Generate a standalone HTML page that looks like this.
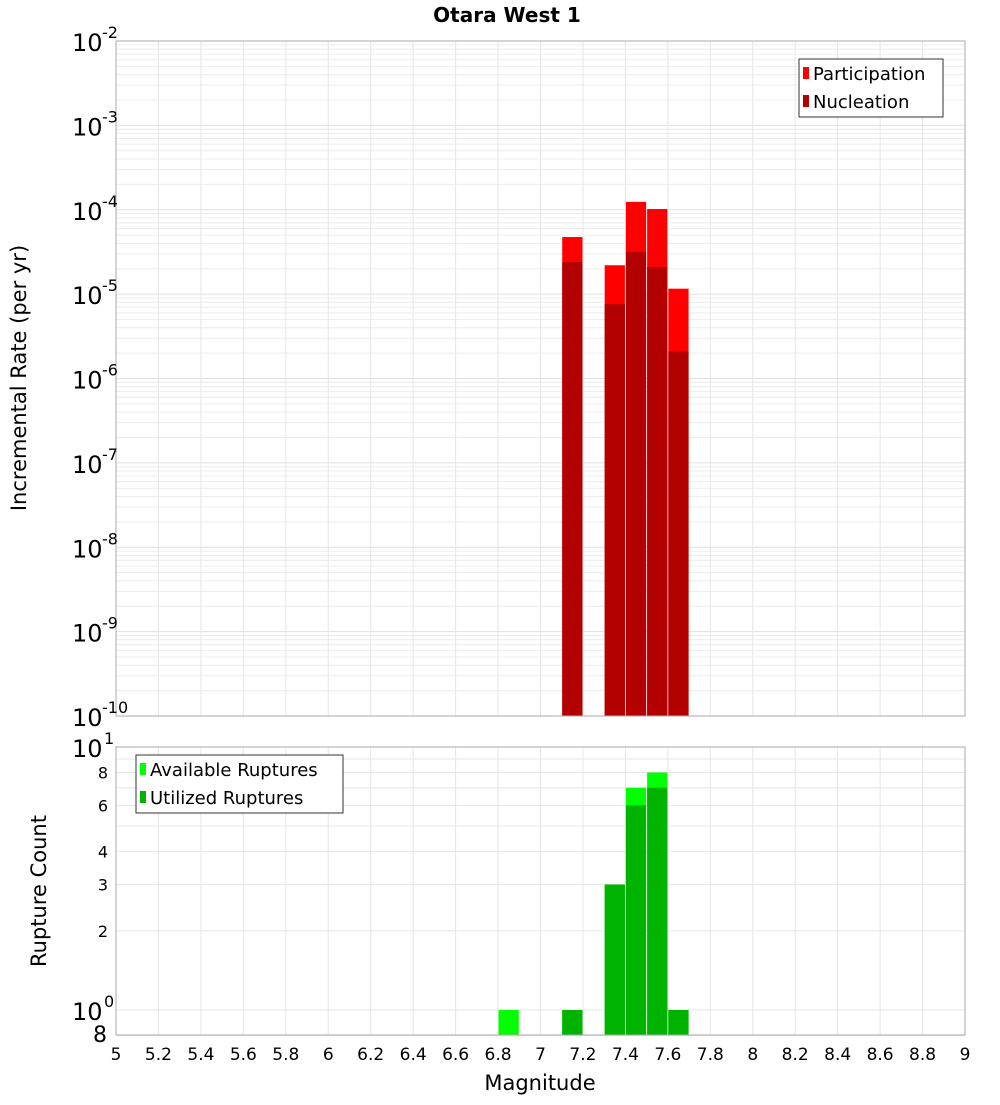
<!DOCTYPE html>
<html><head><meta charset="utf-8"><style>
body{margin:0;background:#fff;}
svg text{font-family:"DejaVu Sans","Liberation Sans",sans-serif;}
</style></head><body>
<svg id="c" width="1000" height="1100" xmlns="http://www.w3.org/2000/svg">
<text x="507" y="22" text-anchor="middle" font-size="20" font-weight="bold">Otara West 1</text>
<text transform="translate(26,378) rotate(-90)" text-anchor="middle" font-size="21">Incremental Rate (per yr)</text>
<text transform="translate(46,891) rotate(-90)" text-anchor="middle" font-size="21">Rupture Count</text>
<text x="540" y="1090" text-anchor="middle" font-size="21">Magnitude</text>
<g id="g"></g>
</svg>
<script>
const bins=[6.85,7.15,7.35,7.45,7.55,7.65];
const participation=[0,4.75e-5,2.2e-5,1.24e-4,1.02e-4,1.16e-5];
const nucleation=[0,2.4e-5,7.6e-6,3.16e-5,2.1e-5,2.1e-6];
const available=[1,1,3,7,8,1];
const utilized=[0,1,3,6,7,1];
const xTicks=[5,5.2,5.4,5.6,5.8,6,6.2,6.4,6.6,6.8,7,7.2,7.4,7.6,7.8,8,8.2,8.4,8.6,8.8,9];
const topExps=[-2,-3,-4,-5,-6,-7,-8,-9,-10];
const botTicks=[8,6,4,3,2];

const NS='http://www.w3.org/2000/svg';
const g=document.getElementById('g');
function el(t,a,p){const e=document.createElementNS(NS,t);for(const k in a)e.setAttribute(k,a[k]);(p||g).appendChild(e);return e;}
const X0=116,X1=965;
const xs=m=>X0+(m-5)/4*(X1-X0);
const T0=41,T1=716;
const ty=v=>T0+(-2-Math.log10(v))*(T1-T0)/8;
const B0=747,B1=1035;
const by=v=>1010-Math.log10(v)*263;

for(let e=-10;e<-2;e++)for(let k=1;k<10;k++){const v=k*Math.pow(10,e);const y=ty(v);
 const l=el('line',{x1:X0,x2:X1,y1:y,y2:y,stroke:k==1?'#e0e0e0':'#ececec','stroke-width':1});
 }
xTicks.forEach(t=>{const x=xs(t);
 const l=el('line',{x1:x,x2:x,y1:T0,y2:T1,stroke:'#e6e6e6'});
 const l2=el('line',{x1:x,x2:x,y1:B0,y2:B1,stroke:'#e6e6e6'});
 const tx=el('text',{x:x,y:1060,'text-anchor':'middle','font-size':17});tx.textContent=String(t);
 });
[0.8,1,2,3,4,5,6,7,8,9,10].forEach(v=>{const y=by(v);const l=el('line',{x1:X0,x2:X1,y1:y,y2:y,stroke:'#e6e6e6'});
 });

const bw=(X1-X0)/40;
bins.forEach((b,i)=>{const x=xs(b)-bw/2+0.5,w=bw-1;
 if(participation[i]>0){const r=el('rect',{x:x,y:ty(participation[i]),width:w,height:T1-ty(participation[i]),fill:'#ff0000'});
  }
 if(nucleation[i]>0){const r=el('rect',{x:x,y:ty(nucleation[i]),width:w,height:T1-ty(nucleation[i]),fill:'#b30000'});
  }
 if(available[i]>0){const r=el('rect',{x:x,y:by(available[i]),width:w,height:B1-by(available[i]),fill:'#00ff00'});
  }
 if(utilized[i]>0){const r=el('rect',{x:x,y:by(utilized[i]),width:w,height:B1-by(utilized[i]),fill:'#00b300'});
  }
});
const f1=el('rect',{x:X0,y:T0,width:X1-X0,height:T1-T0,fill:'none',stroke:'#aaa'});
const f2=el('rect',{x:X0,y:B0,width:X1-X0,height:B1-B0,fill:'none',stroke:'#aaa'});
topExps.forEach(e=>{const y=ty(Math.pow(10,e));
 const t=el('text',{x:72,y:y+10,'font-size':24});t.textContent='10';
 const s=el('text',{x:102,y:y-3,'font-size':16});s.textContent=String(e);});
[[10,'10','1'],[1,'10','0']].forEach(([v,b,s])=>{const y=by(v);
 const t=el('text',{x:72,y:y+10,'font-size':24});t.textContent=b;
 const u=el('text',{x:104,y:y-3,'font-size':16});u.textContent=s;});
botTicks.forEach(v=>{const t=el('text',{x:108,y:by(v)+6,'font-size':16,'text-anchor':'end'});t.textContent=String(v);
 });
const t8=el('text',{x:107,y:1042,'font-size':22,'text-anchor':'end'});t8.textContent='8';
function legend(x,y,w,items,name){const r=el('rect',{x:x,y:y,width:w,height:58,fill:'#fff',stroke:'#333'});
 
 items.forEach(([c,l],i)=>{const yy=y+15+i*28;
  const s=el('rect',{x:x+4,y:yy-7,width:6,height:12,fill:c});
  const t=el('text',{x:x+14,y:yy+6,'font-size':18});t.textContent=l;});}
legend(799,59,144,[['#ff0000','Participation'],['#b30000','Nucleation']],'top-legend');
legend(136,755,207,[['#00ff00','Available Ruptures'],['#00b300','Utilized Ruptures']],'bottom-legend');
</script>
</body></html>
